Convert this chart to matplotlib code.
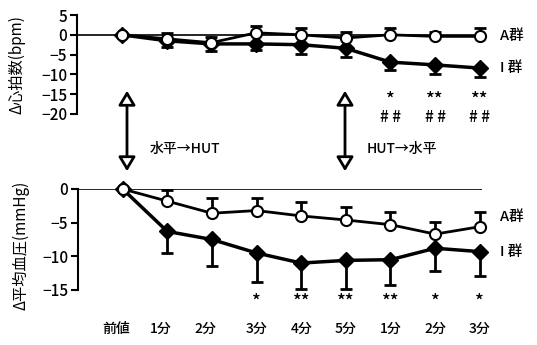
import matplotlib
matplotlib.use("Agg")
import matplotlib.pyplot as plt
import numpy as np

plt.rcParams['font.family'] = ['Noto Sans CJK JP', 'DejaVu Sans']
plt.rcParams['font.weight'] = 'medium'

labels = ["前値", "1分", "2分", "3分", "4分", "5分", "1分", "2分", "3分"]
x = np.arange(len(labels))

# Heart rate change (bpm)
hr_A = [0, -1.0, -2.0, 0.5, 0.0, -0.8, 0.0, -0.4, -0.4]
hr_A_err = [0, 1.5, 1.5, 1.8, 1.7, 1.5, 1.8, 1.0, 2.2]
hr_I = [0, -1.5, -2.3, -2.3, -2.5, -3.4, -6.9, -7.6, -8.4]
hr_I_err = [0, 1.7, 1.7, 1.5, 2.3, 2.1, 2.1, 2.2, 2.3]
hr_sig1 = ["", "", "", "", "", "", "*", "**", "**"]
hr_sig2 = ["", "", "", "", "", "", "##", "##", "##"]

# Mean BP change (mmHg)
bp_A = [0, -1.8, -3.6, -3.2, -4.0, -4.6, -5.3, -6.7, -5.6]
bp_A_err = [0, 1.6, 2.2, 1.8, 2.0, 1.9, 1.9, 1.8, 2.2]
bp_I = [0, -6.3, -7.5, -9.5, -11.0, -10.6, -10.5, -8.8, -9.3]
bp_I_err = [0, 3.2, 4.0, 4.3, 3.9, 4.2, 3.7, 3.4, 3.6]
bp_sig = ["", "", "", "*", "**", "**", "**", "*", "*"]

W, H = 537, 345
fig = plt.figure(figsize=(W / 100, H / 100), dpi=100)

def px_axes(x0, y_top, x1, y_bot):
    return fig.add_axes([x0 / W, 1 - y_bot / H, (x1 - x0) / W, (y_bot - y_top) / H])

ax1 = px_axes(77, 15, 482, 114)
ax2 = px_axes(78, 189, 482, 290)

def style(ax, ylim, yticks):
    ax.set_xlim(-1, 8.05)
    ax.set_ylim(*ylim)
    ax.set_yticks(yticks)
    for s in ["top", "right", "bottom"]:
        ax.spines[s].set_visible(False)
    ax.spines["left"].set_linewidth(1.5)
    ax.tick_params(axis="y", direction="out", length=5, width=1.5, labelsize=11, pad=2)
    ax.set_xticks([])
    ax.axhline(0, color="black", lw=1.2, zorder=1)

style(ax1, (-20, 5), [5, 0, -5, -10, -15, -20])
style(ax2, (-15, 0), [0, -5, -10, -15])

def draw(ax, A, Aerr, I, Ierr):
    ax.errorbar(x, A, yerr=[np.zeros(len(Aerr)), Aerr], fmt="none", ecolor="black",
                elinewidth=2, capsize=4, capthick=2, clip_on=False, zorder=2)
    ax.errorbar(x, I, yerr=[Ierr, np.zeros(len(Ierr))], fmt="none", ecolor="black",
                elinewidth=2, capsize=4, capthick=2, clip_on=False, zorder=2)
    ax.plot(x, I, color="black", lw=2.5, marker="D", ms=8, mfc="black", mec="black",
            clip_on=False, zorder=3)
    ax.plot(x, A, color="black", lw=2.0, marker="o", ms=8, mfc="white", mec="black",
            mew=1.5, clip_on=False, zorder=4)

draw(ax1, hr_A, hr_A_err, hr_I, hr_I_err)
draw(ax2, bp_A, bp_A_err, bp_I, bp_I_err)

ax1.text(8.45, hr_A[-1], "A群", fontsize=10.5, va="center", ha="left", clip_on=False)
ax1.text(8.45, hr_I[-1], "I 群", fontsize=10.5, va="center", ha="left", clip_on=False)
ax2.text(8.45, -4.1, "A群", fontsize=10.5, va="center", ha="left", clip_on=False)
ax2.text(8.45, -9.3, "I 群", fontsize=10.5, va="center", ha="left", clip_on=False)

for xi, s1, s2 in zip(x, hr_sig1, hr_sig2):
    if s1:
        ax1.text(xi, -16.3, s1, fontsize=13, ha="center", va="center", clip_on=False)
    if s2:
        ax1.text(xi, -21.0, " ".join(s2), fontsize=11, ha="center", va="center", clip_on=False)
for xi, s in zip(x, bp_sig):
    if s:
        ax2.text(xi, -16.8, s, fontsize=13, ha="center", va="center", clip_on=False)

for xi, lab in zip(x, labels):
    ax2.text(xi - 0.15 if xi < 3 else xi, -20.8, lab, fontsize=10, ha="center", va="center",
             clip_on=False)

ax1.set_ylabel("Δ心拍数(bpm)", fontsize=11, labelpad=2)
ax2.set_ylabel("Δ平均血圧(mmHg)", fontsize=11, labelpad=2)
ax1.yaxis.set_label_coords(-0.128, 0.5)
ax2.yaxis.set_label_coords(-0.121, 0.445)

for xp in (127, 345):
    fig.add_artist(matplotlib.patches.FancyArrowPatch(
        (xp / W, 1 - 88 / H), (xp / W, 1 - 174 / H), transform=fig.transFigure,
        arrowstyle="<|-|>,head_length=5,head_width=3", lw=2, ec="black", fc="white",
        mutation_scale=1.7))

fig.text(150 / W, 1 - 149 / H, "水平→HUT", fontsize=10, ha="left", va="center")
fig.text(367 / W, 1 - 149 / H, "HUT→水平", fontsize=10, ha="left", va="center")

fig.savefig("out.png", dpi=100)
